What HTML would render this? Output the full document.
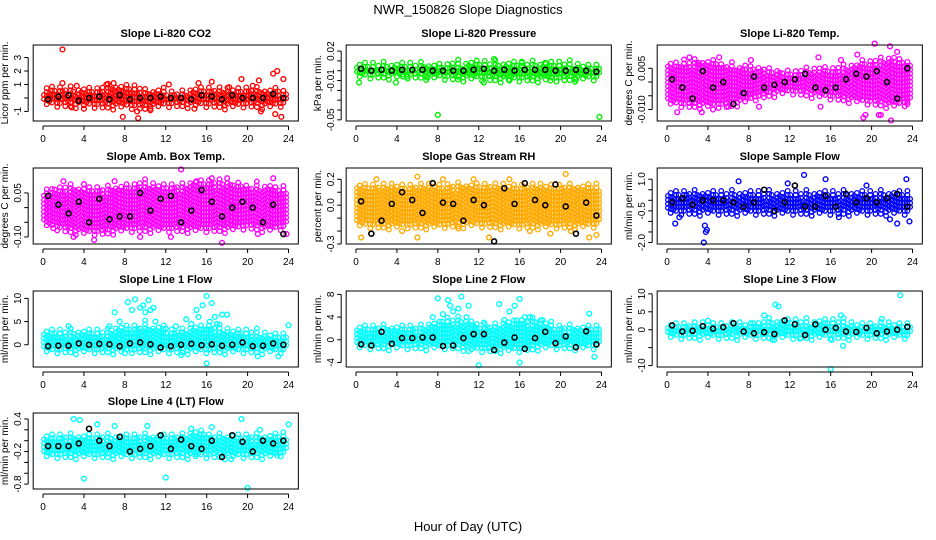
<!DOCTYPE html>
<html><head><meta charset="utf-8"><style>
html,body{margin:0;padding:0;background:#fff;width:936px;height:540px;overflow:hidden}
svg{display:block;font-family:"Liberation Sans",Arial,sans-serif}
</style></head><body>
<svg id="chart" width="936" height="540" viewBox="0 0 936 540">
<text x="468" y="14" text-anchor="middle" font-size="13">NWR_150826  Slope Diagnostics</text>
<text x="468" y="531" text-anchor="middle" font-size="13">Hour of Day (UTC)</text>
</svg>
<script>
// ---------- data (hours on x) ----------
const xTicks = [0,4,8,12,16,20,24];
const envHours = [0,2,4,6,8,10,12,14,16,18,20,22,24];
const meanHours = [0.5,1.5,2.5,3.5,4.5,5.5,6.5,7.5,8.5,9.5,10.5,11.5,12.5,13.5,14.5,15.5,16.5,17.5,18.5,19.5,20.5,21.5,22.5,23.5];

const titles = ["Slope Li-820 CO2","Slope Li-820 Pressure","Slope Li-820 Temp.","Slope Amb. Box Temp.","Slope Gas Stream RH","Slope Sample Flow","Slope Line 1 Flow","Slope Line 2 Flow","Slope Line 3 Flow","Slope Line 4 (LT) Flow"];
const yTitles = ["Licor ppm per min.","kPa per min.","degrees C per min.","degrees C per min.","percent per min.","ml/min per min.","ml/min per min.","ml/min per min.","ml/min per min.","ml/min per min."];
const colors = ["#ff0000","#00ee00","#ff00ff","#ff00ff","#ffaa00","#0000ff","#00ffff","#00ffff","#00ffff","#00ffff"];

const yTicks = [[-1,0,1,2,3],[0.02,0.01,0,-0.01,-0.02,-0.03,-0.04,-0.05],[0.005,0,-0.005,-0.010],[0.05,0,-0.05,-0.10],[0.2,0.1,0,-0.1,-0.2,-0.3],[1.0,0.5,0,-0.5,-1.0,-1.5,-2.0],[10,5,0],[8,4,0,-4],[10,5,0,-5,-10],[0.4,0.2,0,-0.2,-0.4,-0.6,-0.8]];
const yTickLabels = [["-1","","1","2","3"],["0.02","","","-0.01","","","","-0.05"],["0.005","","","-0.010"],["0.05","","","-0.10"],["0.2","","0.0","","","-0.3"],["1.0","","","-0.5","","","-2.0"],["10","5","0"],["8","4","0","-4"],["10","5","0","","-10"],["0.4","","","-0.2","","","-0.8"]];
const yRanges = [[-1.71,3.93],[-0.0512,0.0262],[-0.0142,0.0135],[-0.124,0.135],[-0.300,0.287],[-2.07,1.53],[-4.8,11.6],[-4.8,8.6],[-10.4,10.8],[-0.89,0.51]];

const bandHi = [
 [0.5,0.6,0.5,0.7,0.9,0.5,0.4,0.4,0.6,0.6,0.7,0.5,0.4],
 [0.005,0.005,0.005,0.005,0.005,0.006,0.006,0.006,0.006,0.006,0.006,0.005,0.005],
 [0.006,0.007,0.007,0.006,0.005,0.004,0.003,0.004,0.004,0.006,0.007,0.008,0.007],
 [0.05,0.07,0.06,0.06,0.07,0.08,0.07,0.07,0.09,0.08,0.07,0.07,0.06],
 [0.15,0.15,0.15,0.15,0.15,0.15,0.14,0.15,0.15,0.15,0.15,0.14,0.14],
 [0.3,0.4,0.3,0.3,0.3,0.3,0.3,0.3,0.3,0.3,0.3,0.3,0.3],
 [2.5,2.5,2.5,2.5,3.5,4,3,3,4,3,2.5,2,2],
 [2,2,2,2,3,3.5,2.5,2.5,3.5,3,2,2,2],
 [1.5,1.5,1.5,1.5,1.5,2,2,1.5,2,1.5,1.5,1.5,1.5],
 [0.05,0.08,0.08,0.06,0.06,0.08,0.08,0.1,0.1,0.08,0.08,0.08,0.1]];
const bandLo = [
 [-0.3,-0.4,-0.4,-0.5,-0.5,-0.6,-0.4,-0.4,-0.4,-0.5,-0.4,-0.5,-0.3],
 [-0.004,-0.004,-0.004,-0.004,-0.005,-0.006,-0.006,-0.007,-0.007,-0.007,-0.007,-0.006,-0.006],
 [-0.007,-0.008,-0.008,-0.008,-0.006,-0.004,-0.003,-0.004,-0.005,-0.006,-0.007,-0.008,-0.007],
 [-0.05,-0.07,-0.08,-0.08,-0.07,-0.07,-0.07,-0.07,-0.07,-0.07,-0.06,-0.07,-0.06],
 [-0.14,-0.15,-0.15,-0.15,-0.15,-0.14,-0.14,-0.15,-0.15,-0.15,-0.15,-0.15,-0.14],
 [-0.5,-0.5,-0.5,-0.5,-0.5,-0.5,-0.5,-0.5,-0.5,-0.5,-0.5,-0.5,-0.5],
 [-1,-1,-1,-1,-1,-1,-1,-1,-1,-1,-1,-1,-1],
 [-1,-1,-1,-1,-1,-1,-1.5,-1.5,-1.5,-1,-1,-1,-1],
 [-1.5,-1.5,-1.5,-1.5,-1.5,-1.5,-1.5,-1.5,-1.5,-1.5,-1.5,-1.5,-1.5],
 [-0.25,-0.25,-0.25,-0.25,-0.25,-0.25,-0.25,-0.25,-0.25,-0.25,-0.25,-0.25,-0.2]];
const meanVals = [
 [-0.1,0.1,0.2,-0.2,0,0.1,-0.1,0.2,-0.1,0,0,0.1,0,0,-0.1,0.2,0.1,-0.1,0.2,0,0,0,0.3,0],
 [0.002,0.0,0.001,0.0,0.001,0.001,0.001,0.0,0.0,0.0,0.0,0.001,0.002,0.0,0.001,0.0,0.001,0.001,0.001,0.0,0.0,0.001,0.0,-0.001],
 [0.001,-0.002,-0.006,0.004,-0.002,0,-0.008,-0.004,0.002,-0.002,-0.001,0,0.001,0.003,-0.002,-0.003,-0.002,0.001,0.003,0.002,0.004,0,-0.006,0.005],
 [0.04,0.01,-0.02,0.02,-0.05,0.03,-0.04,-0.03,-0.03,0.05,-0.01,0.03,0.04,-0.05,-0.01,0.06,0.02,-0.03,0.0,0.02,0.0,-0.05,0.01,-0.09],
 [0.03,-0.22,-0.12,0.01,0.1,0.04,-0.06,0.17,0.02,0.01,-0.12,0.04,0.0,-0.28,0.13,0.01,0.17,0.04,0.0,0.16,-0.01,-0.22,0.02,-0.08],
 [-0.1,0.1,-0.2,0,0,0,-0.1,-0.3,-0.1,0.5,-0.5,-0.1,0.7,-0.3,-0.3,0.2,-0.3,0.3,-0.1,0.1,-0.1,0.1,0.3,-0.3],
 [-0.3,-0.2,-0.2,0.3,0,0.2,0.1,-0.3,0.3,0.5,0.1,-0.6,-0.3,0,0.2,-0.1,0.1,-0.2,0,0.5,-0.3,-0.2,0.3,0],
 [-0.8,-1,1.4,-0.7,0.3,0.3,0.4,0.4,-1.1,-1,0.3,1,1,-1.8,-0.5,0.4,-1.6,0.3,1.4,-0.6,0.6,-1.3,1.5,-0.8],
 [1.2,-0.5,-0.3,1,0.3,0.7,1.8,-0.5,-1,-0.7,-1.2,2.6,1.5,-1.5,1.5,0,0.5,-0.5,-0.6,0.5,-1,-0.5,0,0.8],
 [-0.1,-0.1,-0.1,-0.05,0.22,0,-0.1,0.07,-0.2,-0.15,-0.1,0.1,-0.15,0.02,-0.1,-0.15,0.0,-0.3,0.1,-0.02,-0.2,0.0,-0.05,0.0]];
const outX = [
 [1.9,1.9,3.3,4.0,6.9,7.8,9.2,9.3,12.3,16.5,19.4,21.1,22.5,22.9,23.5,22.7,23.3,20.5,15.2,14.8,21.3,6.2,2.8,10.5,18.2],
 [0.3,3.9,8.0,23.8,4.6,5.0,7.0,10.0,12.5,13.5,18.5,21.5,15.0,16.2,19.0],
 [1.0,3.4,14.8,15.0,19.2,19.4,21.8,21.9,20.3,22.5,20.9,5.1,3.1,8.2,18.6,20.7,2.2,4.5,6.0,9.0,17.0,23.5],
 [13.5,3.0,5.0,17.5,23.8,2.0,18.0,4.0,12.5,21.0,1.0,7.0,9.5,15.0,16.5,22.5],
 [0.5,4.5,6.0,6.0,11.5,13.0,15.0,20.5,21.0,22.8,23.5,10.0,2.0,8.5,17.0,19.0],
 [3.7,3.8,3.9,3.6,0.8,13.4,15.5,7.0,23.4,23.7,22.5,21.8,16.8,1.2,11.8,19.5],
 [9.0,8.3,10.3,16.0,16.5,15.6,7.0,10.5,2.5,14.0,15.0,17.5,16.0,21.0,23.0,24.0,11.0,13.0,8.0,13.5,9.5,16.8,8.7,9.8,10.0,10.8,14.5,15.2,16.3,17.0,18.0,12.0,7.5,6.5],
 [8.0,10.3,9.0,16.0,14.0,12.0,16.0,23.3,22.8,11.0,13.0,11.0,15.5,9.5,8.5,9.2,10.0,10.8,14.5,15.0,16.5,17.0,18.2,7.5,12.5],
 [10.6,10.9,9.5,16.0,22.8,17.2,16.1,10.3,17.0,4.0,13.0,21.0],
 [3.0,3.6,4.0,12.0,20.0,19.4,5.3,7.0,18.4,15.0,22.9,24.0,16.5,10.2,14.5,21.2]];
const outY = [
 [3.6,1.1,0.9,-0.8,1.1,-1.4,-1.0,-1.5,1.0,1.2,1.4,1.3,1.8,2.0,1.4,-1.2,-1.4,0.9,1.1,-0.8,-1.0,1.0,-0.7,-0.8,0.8],
 [-0.012,-0.012,-0.045,-0.047,-0.006,-0.006,-0.007,-0.006,-0.012,0.012,0.008,-0.009,-0.010,0.008,-0.010],
 [-0.011,-0.011,0.009,-0.009,-0.013,-0.012,0.013,-0.014,0.014,0.011,-0.012,0.009,0.007,0.008,0.01,-0.012,0.009,-0.010,-0.009,-0.009,0.008,-0.008],
 [0.13,-0.1,-0.11,-0.12,-0.09,0.09,0.1,0.08,-0.1,-0.09,-0.07,0.09,-0.1,0.09,0.1,0.1],
 [-0.25,-0.2,0.22,-0.25,0.2,-0.25,0.2,0.24,-0.2,-0.25,-0.23,-0.18,0.2,0.2,-0.2,-0.22],
 [-1.2,-1.5,-1.4,-2.0,-1.1,1.2,1.0,0.9,1.0,-1.0,-1.1,-0.9,-0.8,-0.8,0.8,0.7],
 [9.8,9.2,9.6,10.5,9.0,8.5,7.0,7.5,4.0,5.5,7.5,6.5,-4.0,-2.5,-2.5,4.2,5.0,4.0,-1.8,-2.2,8.0,6.0,7.5,8.5,7.0,8.0,4.5,6.0,5.0,4.5,6.5,3.5,5.0,4.0],
 [7.3,7.6,7.0,7.2,6.3,-4.5,-4.0,-3.0,4.6,6.0,-1.5,-2.0,6.0,5.0,4.5,6.0,5.5,4.0,3.5,5.0,4.0,4.0,3.5,4.0,3.0],
 [7.0,6.5,4.0,-11.0,9.6,-4.5,-2.8,-2.8,4.0,2.5,-2.5,3.0],
 [0.4,0.38,-0.7,-0.68,-0.87,0.4,0.3,0.27,-0.34,-0.25,-0.27,0.3,0.25,0.27,0.22,0.2]];

// ---------- layout ----------
const NS = "http://www.w3.org/2000/svg";
const svg = document.getElementById("chart");
const colX0 = [43, 356, 667];
const pxPerHr = 10.23;
const rowTop = [45, 168, 291, 413];
const boxH = 76;
const rough = [0,3,-2,5,1,-3,4,-1,2,-4,6,0,-2,3];   // edge texture (px)

function mk(tag, attrs, parent) {
  const e = document.createElementNS(NS, tag);
  for (const k in attrs) e.setAttribute(k, attrs[k]);
  (parent || svg).appendChild(e);
  return e;
}

titles.forEach((title, i) => {
  const col = i % 3, row = Math.floor(i / 3);
  const x0 = colX0[col];
  const top = rowTop[row], bot = top + boxH;
  const left = x0 - 0.96 * pxPerHr, right = x0 + 24.96 * pxPerHr;
  const [ymin, ymax] = yRanges[i];
  const xs = h => x0 + h * pxPerHr;
  const ys = v => bot - (v - ymin) / (ymax - ymin) * boxH;

  const g = mk("g", {});
  
  

  const t = mk("text", {x: (left + right) / 2, y: top - 8, "text-anchor": "middle", "font-size": "11", "font-weight": "bold"}, g);
  t.textContent = title;
  
  

  const bandG = mk("g", {fill: "none", stroke: colors[i], "stroke-width": "1.3"}, g);
  
  
  let k = 0;
  for (let h = 0.1; h <= 23.95; h += 0.26, k++) {
    const seg = Math.min(11, Math.floor(h / 2));
    const f = (h - envHours[seg]) / 2;
    const hi = bandHi[i][seg] + (bandHi[i][seg + 1] - bandHi[i][seg]) * f;
    const lo = bandLo[i][seg] + (bandLo[i][seg + 1] - bandLo[i][seg]) * f;
    const yTop = Math.max(top + 3, ys(hi) - rough[k % 14]);
    const yBot = Math.min(bot - 3, ys(lo) + rough[(k + 5) % 14]);
    for (let py = yBot - (k % 2) * 2; py >= yTop; py -= 4) {
      mk("circle", {cx: xs(h).toFixed(1), cy: py.toFixed(1), r: "2.3"}, bandG);
    }
  }
  outX[i].forEach((h, j) => {
    const c = mk("circle", {cx: xs(h), cy: ys(outY[i][j]), r: "2.4", fill: "none", stroke: colors[i], "stroke-width": "1.4"}, g);
    
    
  });
  meanHours.forEach((h, j) => {
    const c = mk("circle", {cx: xs(h), cy: ys(meanVals[i][j]), r: "2.5", fill: "none", stroke: "#000", "stroke-width": "1.6"}, g);
    
    
  });

  const b = mk("rect", {x: left, y: top, width: right - left, height: boxH, fill: "none", stroke: "#000", "stroke-width": "1"}, g);
  
  

  const xa = mk("g", {"font-size": "10", "text-anchor": "middle"}, g);
  
  
  mk("line", {x1: xs(0), x2: xs(24), y1: bot + 5, y2: bot + 5, stroke: "#000"}, xa);
  xTicks.forEach(v => {
    mk("line", {x1: xs(v), x2: xs(v), y1: bot + 5, y2: bot + 9, stroke: "#000"}, xa);
    const tl = mk("text", {x: xs(v), y: bot + 21}, xa);
    tl.textContent = v;
  });

  const ya = mk("g", {"font-size": "10", "text-anchor": "middle"}, g);
  
  
  const tv = yTicks[i];
  mk("line", {x1: left - 5, x2: left - 5, y1: ys(Math.min(...tv)), y2: ys(Math.max(...tv)), stroke: "#000"}, ya);
  tv.forEach((v, j) => {
    mk("line", {x1: left - 5, x2: left - 9, y1: ys(v), y2: ys(v), stroke: "#000"}, ya);
    const lab = yTickLabels[i][j];
    if (lab) {
      const tl = mk("text", {x: 0, y: 0, transform: `translate(${left - 12},${ys(v)}) rotate(-90)`}, ya);
      tl.textContent = lab;
    }
  });
  const yt = mk("text", {x: 0, y: 0, "font-size": "10", "text-anchor": "middle", transform: `translate(${left - 25},${(top + bot) / 2}) rotate(-90)`}, g);
  yt.textContent = yTitles[i];
  
  
});
</script>
</body></html>
